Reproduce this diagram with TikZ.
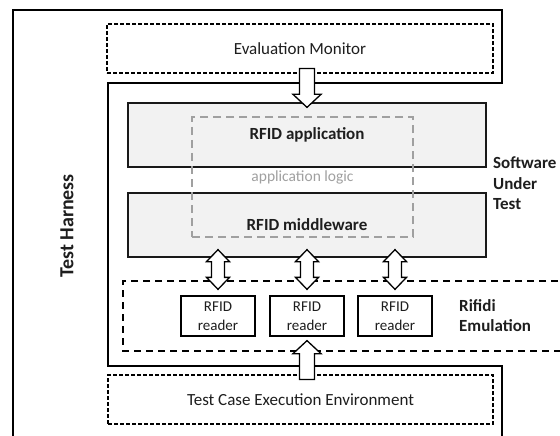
\documentclass[tikz,border=0pt]{standalone}
\usepackage{fontspec}
\setmainfont{Carlito}
\usetikzlibrary{calc}
\definecolor{boxgray}{HTML}{F2F2F2}
\definecolor{logicgray}{HTML}{A0A0A0}
\definecolor{txt}{HTML}{1E1E1E}
\tikzset{
  harness/.style={line width=2.6pt, draw=black},
  envbox/.style={draw=black, line width=1.2pt, dash pattern=on 4pt off 2pt,
    minimum width=386pt, minimum height=49pt, text=txt,
    font=\fontsize{17}{20}\selectfont},
  layerbox/.style={draw=black!90, line width=1.3pt, fill=boxgray,
    minimum width=358pt, minimum height=64pt, text=txt,
    font=\fontsize{17}{20}\selectfont\bfseries},
  logicbox/.style={draw=logicgray, line width=1.4pt, dash pattern=on 8pt off 5pt,
    minimum width=221pt, minimum height=120pt, text=logicgray,
    font=\fontsize{15.5}{19}\selectfont},
  readerbox/.style={draw=black, line width=1.3pt, minimum width=74pt,
    minimum height=40pt, align=center, text=txt, inner sep=0pt,
    font=\fontsize{15}{19}\selectfont},
  emubox/.style={draw=black, line width=1.3pt, dash pattern=on 7pt off 5pt},
  sidelabel/.style={align=left, anchor=west, text=txt, inner sep=0pt,
    font=\fontsize{17}{20.5}\selectfont\bfseries},
  blockarrow/.style={draw=black, fill=white, line width=1.3pt, line join=miter},
}
% single hollow block arrow, vertical; #3 is + for a downward arrow, - for upward
\newcommand{\myblockarrow}[3]{%
  \draw[blockarrow] let \p1=(#1), \p2=(#2) in
    (\x1-7.5pt,\y1) -- (\x1-7.5pt,\y2#313pt) -- (\x1-14pt,\y2#313pt) -- (\x1,\y2)
    -- (\x1+14pt,\y2#313pt) -- (\x1+7.5pt,\y2#313pt) -- (\x1+7.5pt,\y1) -- cycle;}
% double hollow block arrow from upper point #1 to lower point #2
\newcommand{\mydblarrow}[2]{%
  \draw[blockarrow] let \p1=(#1), \p2=(#2) in
    (\x1,\y1) -- (\x1+11.5pt,\y1-12pt) -- (\x1+6.5pt,\y1-12pt)
    -- (\x1+6.5pt,\y2+12pt) -- (\x1+11.5pt,\y2+12pt) -- (\x1,\y2)
    -- (\x1-11.5pt,\y2+12pt) -- (\x1-6.5pt,\y2+12pt)
    -- (\x1-6.5pt,\y1-12pt) -- (\x1-11.5pt,\y1-12pt) -- cycle;}
\begin{document}
\begin{tikzpicture}[x=1pt, y=-1pt]
\useasboundingbox (0,0) rectangle (560,436);
\clip (0,0) rectangle (560,436);
\fill[white] (0,0) rectangle (560,436);

% Test Harness outline wrapping the Software Under Test
\draw[harness] (13,445) -- (13,10) -- (502,10) -- (502,83) -- (108,83)
  -- (108,366) -- (502,366) -- (502,445);

% Rifidi emulation region (open to the right)
\draw[emubox] (570,281) -- (123,281) -- (123,351) -- (570,351);

\node[envbox] (em) at (300,48.5) {Evaluation Monitor};
\node[envbox, minimum width=385pt] (tce) at (300.5,399.5) {Test Case Execution Environment};

\node[layerbox] (app) at (307,135) {RFID application};
\node[layerbox] (mw) at (307,225) {RFID middleware};
\node[logicbox] (logic) at (302.5,177) {application logic};

\node[readerbox] (r1) at (218,316) {RFID\\reader};
\node[readerbox] (r2) at (307,316) {RFID\\reader};
\node[readerbox] (r3) at (395,316) {RFID\\reader};

\node[sidelabel] (sut) at (493,183.5) {Software\\Under\\Test};
\node[sidelabel, font=\fontsize{17}{20}\selectfont\bfseries] (emu) at (459,316) {Rifidi\\Emulation};
\node[rotate=90, text=txt, font=\fontsize{20}{24}\selectfont\bfseries] (th) at (67,226) {Test Harness};

% connectors
\coordinate (emTail) at ($(app.north |- em.south)+(0,-5)$);
\coordinate (appTip) at ($(app.north)+(0,5)$);
\myblockarrow{emTail}{appTip}{+}

\coordinate (tceTail) at ($(r2.south |- tce.north)+(0,5)$);
\coordinate (r2Tip) at ($(r2.south)+(0,4)$);
\myblockarrow{tceTail}{r2Tip}{-}

\foreach \r in {r1,r2,r3}{
  \coordinate (mw-\r) at ($(mw.south -| \r.north)+(0,-8)$);
  \coordinate (top-\r) at ($(\r.north)+(0,-6)$);
  \mydblarrow{mw-\r}{top-\r}
}
\end{tikzpicture}
\end{document}
